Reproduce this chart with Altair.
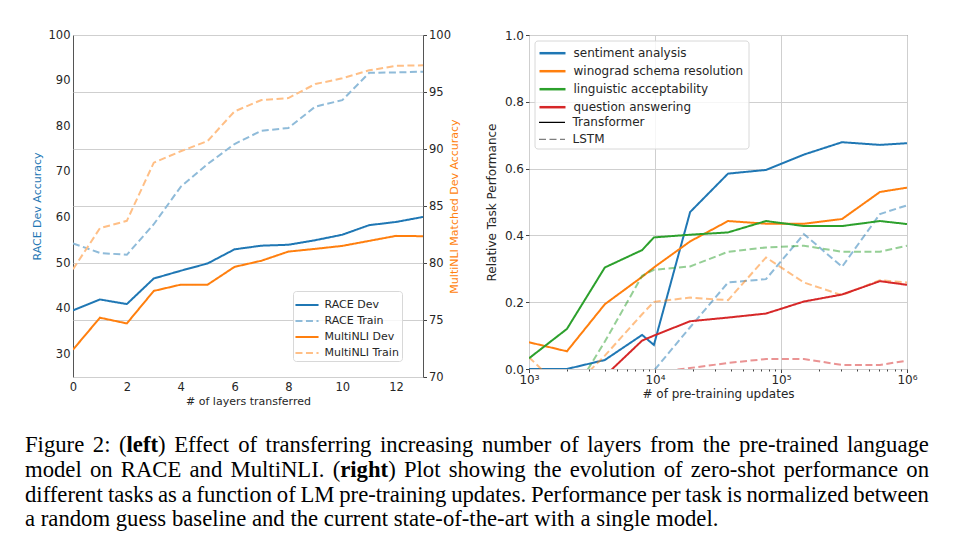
import re
import altair as alt
import pandas as pd

BLUE = "#1f77b4"
ORANGE = "#ff7f0e"
GREEN = "#2ca02c"
RED = "#d62728"
BLUE_LIGHT = "#8fbbd9"     # blue at half opacity on white
ORANGE_LIGHT = "#ffbf86"   # orange at half opacity on white

# ---------------- left panel data ----------------
layers = list(range(14))
race_dev = [39.6, 42.0, 41.0, 46.6, 48.3, 49.9, 53.0, 53.8, 54.0, 55.0, 56.2, 58.3, 59.0, 60.1]
race_train = [54.3, 52.2, 51.8, 58.5, 66.7, 71.7, 76.1, 79.0, 79.6, 84.3, 85.7, 91.7, 91.8, 91.95]
mnli_dev = [72.4, 75.2, 74.7, 77.55, 78.1, 78.1, 79.66, 80.2, 81.0, 81.24, 81.5, 81.94, 82.38, 82.35]
mnli_train = [79.45, 83.05, 83.7, 88.8, 89.8, 90.7, 93.3, 94.3, 94.47, 95.7, 96.2, 96.9, 97.3, 97.34]
left_series = ["RACE Dev", "RACE Train", "MultiNLI Dev", "MultiNLI Train"]
left_x_ticks = [0, 2, 4, 6, 8, 10, 12]
race_ticks = [30, 40, 50, 60, 70, 80, 90, 100]
mnli_ticks = [70, 75, 80, 85, 90, 95, 100]

# ---------------- right panel data ----------------
updates = [1000, 2000, 4000, 7900, 9800, 19000, 38000, 76000, 152000, 305000, 610000, 1000000]
tasks = ["sentiment analysis", "winograd schema resolution", "linguistic acceptability", "question answering"]
models = ["Transformer", "LSTM"]
tf_sentiment = [0.0, 0.0, 0.027, 0.102, 0.072, 0.47, 0.585, 0.596, 0.642, 0.679, 0.671, 0.676]
tf_winograd = [0.080, 0.053, 0.194, 0.276, 0.304, 0.382, 0.443, 0.435, 0.435, 0.449, 0.530, 0.543]
tf_linguistic = [0.032, 0.12, 0.304, 0.356, 0.394, 0.402, 0.409, 0.443, 0.428, 0.428, 0.443, 0.434]
tf_qa = [-0.15, -0.10, -0.021, 0.085, 0.10, 0.143, 0.154, 0.166, 0.202, 0.223, 0.263, 0.252]
lstm_sentiment = [-0.3, -0.25, -0.2, -0.1, -0.005, 0.125, 0.259, 0.269, 0.404, 0.306, 0.464, 0.49]
lstm_winograd = [0.035, -0.073, 0.04, 0.164, 0.201, 0.214, 0.206, 0.334, 0.259, 0.221, 0.266, 0.259]
lstm_linguistic = [-0.3, -0.103, 0.082, 0.279, 0.297, 0.307, 0.351, 0.364, 0.369, 0.351, 0.351, 0.369]
lstm_qa = [-0.3, -0.25, -0.2, -0.1, -0.01, 0.003, 0.018, 0.030, 0.030, 0.012, 0.012, 0.025]
perf_ticks = [0.0, 0.2, 0.4, 0.6, 0.8, 1.0]
update_ticks = [1000, 2000, 3000, 4000, 5000, 6000, 7000, 8000, 9000,
                10000, 20000, 30000, 40000, 50000, 60000, 70000, 80000, 90000,
                100000, 200000, 300000, 400000, 500000, 600000, 700000, 800000, 900000,
                1000000]

# ---------------- caption (** marks bold) ----------------
cap_lines = [
    "Figure 2: (**left**) Effect of transferring increasing number of layers from the pre-trained language",
    "model on RACE and MultiNLI. (**right**) Plot showing the evolution of zero-shot performance on",
    "different tasks as a function of LM pre-training updates. Performance per task is normalized between",
    "a random guess baseline and the current state-of-the-art with a single model.",
]
cap_justify = [True, True, True, False]

FONT = "DejaVu Sans"
SERIF = "Liberation Serif"
GRID = "#cfcfcf"
TXT = "#262626"

# ================= left chart =================
race_df = pd.DataFrame({
    "layers": layers + layers,
    "acc": race_dev + race_train,
    "series": ["RACE Dev"] * 14 + ["RACE Train"] * 14,
})
mnli_df = pd.DataFrame({
    "layers": layers + layers,
    "acc": mnli_dev + mnli_train,
    "series": ["MultiNLI Dev"] * 14 + ["MultiNLI Train"] * 14,
})

color_l = alt.Scale(domain=left_series, range=[BLUE, BLUE_LIGHT, ORANGE, ORANGE_LIGHT])
dash_l = alt.Scale(domain=left_series, range=[[1, 0], [7, 3.5], [1, 0], [7, 3.5]])
leg_l = alt.Legend(title=None, orient="none", legendX=220, legendY=256,
                   symbolType="M-1.2,0H1.2", symbolSize=370, symbolStrokeWidth=2,
                   labelFont=FONT, labelFontSize=11, labelColor=TXT, labelOffset=6.5,
                   labelLimit=300,
                   fillColor="rgba(255,255,255,0.8)", strokeColor="#d8d8d8",
                   padding=3, cornerRadius=3, rowPadding=-1.5)

x_left = alt.X("layers:Q", scale=alt.Scale(domain=[0, 13], nice=False),
               axis=alt.Axis(values=left_x_ticks, title="# of layers transferred", grid=False,
                             ticks=False, labelPadding=4, labelFlush=False, titlePadding=3,
                             labelFontSize=11.5, titleFontSize=11))

race = alt.Chart(race_df).mark_line(strokeWidth=2, clip=True).encode(
    x=x_left,
    y=alt.Y("acc:Q", scale=alt.Scale(domain=[25, 100], nice=False, zero=False),
            axis=alt.Axis(orient="left", values=race_ticks, title="RACE Dev Accuracy",
                          titleColor=BLUE, grid=False, ticks=False, labelPadding=3,
                          labelFlush=False, titlePadding=6, labelFontSize=11.5, titleFontSize=11)),
    color=alt.Color("series:N", scale=color_l, legend=leg_l),
    strokeDash=alt.StrokeDash("series:N", scale=dash_l, legend=leg_l),
)
mnli = alt.Chart(mnli_df).mark_line(strokeWidth=2, clip=True).encode(
    x=x_left,
    y=alt.Y("acc:Q", scale=alt.Scale(domain=[70, 100], nice=False, zero=False),
            axis=alt.Axis(orient="right", values=mnli_ticks, title="MultiNLI Matched Dev Accuracy",
                          titleColor=ORANGE, titleAngle=270, grid=True, gridColor=GRID,
                          ticks=True, tickSize=3.5, labelPadding=2, labelFlush=False,
                          titlePadding=9, labelFontSize=11.5, titleFontSize=11)),
    color=alt.Color("series:N", scale=color_l, legend=leg_l),
    strokeDash=alt.StrokeDash("series:N", scale=dash_l, legend=leg_l),
)

# ---- caption layout: justified text, word by word (Times metrics, per 1000 em) ----
CAP_SIZE = 22.7
W_REG = dict(zip("abcdefghijklmnopqrstuvwxyz",
                 [444, 500, 444, 500, 444, 333, 500, 500, 278, 278, 500, 278, 778,
                  500, 500, 500, 500, 333, 389, 278, 500, 500, 722, 500, 500, 444]))
W_REG.update({"A": 722, "C": 667, "E": 611, "F": 556, "I": 333, "L": 611, "M": 889,
              "N": 722, "P": 556, "R": 667, "S": 556, "T": 611, "2": 500, ":": 278,
              "(": 333, ")": 333, ".": 250, "-": 333})
W_BOLD = {"l": 278, "e": 444, "f": 333, "t": 333, "r": 444, "i": 278, "g": 500, "h": 556}


def tw(s, bold):
    table = W_BOLD if bold else W_REG
    return sum(table.get(c, 500) for c in s) / 1000.0 * CAP_SIZE


PX = 72            # page x of the left plot origin
PY = 34            # page y of the left plot origin
CAP_L, CAP_R = 24, 928
CAP_BASE = [451, 476, 501, 525]

cap_rows = []
for line, just, base in zip(cap_lines, cap_justify, CAP_BASE):
    words = []
    for w in line.split(" "):
        pieces = re.split(r"\*\*(.*?)\*\*", w)
        parts = [(p, i % 2 == 1) for i, p in enumerate(pieces) if p]
        words.append(parts)
    widths = [sum(tw(p, b) for p, b in parts) for parts in words]
    gap = (CAP_R - CAP_L - sum(widths)) / (len(words) - 1) if just else 0.25 * CAP_SIZE
    x = CAP_L
    for parts, wd in zip(words, widths):
        px = x
        for p, b in parts:
            cap_rows.append({"t": p, "x": px - PX, "y": base - PY, "bold": b})
            px += tw(p, b)
        x += wd + gap
cap_df = pd.DataFrame(cap_rows)


def cap_layer(bold):
    return alt.Chart(cap_df[cap_df["bold"] == bold]).mark_text(
        align="left", baseline="alphabetic", font=SERIF, fontSize=CAP_SIZE,
        fontWeight="bold" if bold else "normal", color="black",
    ).encode(
        x=alt.X("x:Q", scale=None, axis=None),
        y=alt.Y("y:Q", scale=None, axis=None),
        text="t:N",
    )


left = alt.layer(race, mnli, cap_layer(False), cap_layer(True)).resolve_scale(
    y="independent").properties(width=350, height=342)

# ================= right chart =================
rows = []
tf_vals = [tf_sentiment, tf_winograd, tf_linguistic, tf_qa]
lstm_vals = [lstm_sentiment, lstm_winograd, lstm_linguistic, lstm_qa]
for t, tv, lv in zip(tasks, tf_vals, lstm_vals):
    for u, v in zip(updates, tv):
        rows.append({"updates": u, "perf": v, "task": t, "model": "Transformer"})
    for u, v in zip(updates, lv):
        rows.append({"updates": u, "perf": v, "task": t, "model": "LSTM"})
right_df = pd.DataFrame(rows)

MAJOR = "datum.value == 1000 || datum.value == 10000 || datum.value == 100000 || datum.value == 1000000"

x_right = alt.X("updates:Q", scale=alt.Scale(type="log", domain=[1000, 1000000], nice=False),
                axis=alt.Axis(values=update_ticks, title="# of pre-training updates",
                              labelExpr="datum.value == 1000 ? '10³' : datum.value == 10000 ? '10⁴' : datum.value == 100000 ? '10⁵' : datum.value == 1000000 ? '10⁶' : ''",
                              grid=True, gridColor=GRID,
                              gridOpacity={"condition": {"test": MAJOR, "value": 1}, "value": 0},
                              tickSize={"condition": {"test": MAJOR, "value": 3.5}, "value": 2},
                              labelFlush=False, labelOverlap=False, labelPadding=2,
                              titlePadding=3, labelFontSize=12, titleFontSize=12))
y_right = alt.Y("perf:Q", scale=alt.Scale(domain=[0, 1], nice=False),
                axis=alt.Axis(values=perf_ticks, format=".1f", title="Relative Task Performance",
                              grid=True, gridColor=GRID, tickSize=3.5, labelPadding=2,
                              labelFlush=False, titlePadding=6, labelFontSize=12, titleFontSize=12))

task_leg = alt.Legend(title=None, orient="none", legendX=12, legendY=6.7,
                      symbolType="M-1.3,0H1.3", symbolSize=400, symbolStrokeWidth=2.5,
                      labelFont=FONT, labelFontSize=12, labelColor=TXT, labelOffset=9.5,
                      labelLimit=300, padding=0, rowPadding=-1.5)
model_leg = alt.Legend(title=None, orient="none", legendX=12, legendY=76.3,
                       symbolType="M-1.3,0H1.3", symbolSize=400, symbolStrokeWidth=1.2,
                       symbolStrokeColor="black",
                       labelFont=FONT, labelFontSize=12, labelColor=TXT, labelOffset=9.5,
                       labelLimit=300, padding=0, rowPadding=-1.5)

one = pd.DataFrame({"k": [0]})
box = alt.Chart(one).mark_rect(fill="white", fillOpacity=0.8, stroke="#d8d8d8",
                               strokeWidth=1, cornerRadius=3).encode(
    x=alt.value(6), x2=alt.value(220), y=alt.value(6), y2=alt.value(114))

lines = alt.Chart(right_df).mark_line(strokeWidth=2, clip=True).encode(
    x=x_right,
    y=y_right,
    color=alt.Color("task:N", scale=alt.Scale(domain=tasks, range=[BLUE, ORANGE, GREEN, RED]),
                    legend=task_leg),
    strokeDash=alt.StrokeDash("model:N", scale=alt.Scale(domain=models, range=[[1, 0], [7, 3.5]]),
                              legend=model_leg),
    opacity=alt.Opacity("model:N", scale=alt.Scale(domain=models, range=[1, 0.5]), legend=model_leg),
)

right = alt.layer(box, lines).properties(width=378, height=334)

chart = alt.hconcat(left, right, spacing=106, bounds="flush").resolve_scale(
    color="independent", strokeDash="independent", opacity="independent"
).resolve_legend(
    color="independent", strokeDash="independent", opacity="independent"
).properties(
    padding={"left": 16, "top": 20, "right": 5, "bottom": 5}
).configure_view(stroke="#555555", strokeWidth=1).configure_axis(
    domain=False, labelFont=FONT, titleFont=FONT, labelColor=TXT, titleColor=TXT,
    titleFontWeight="normal", tickColor="#444444",
)

chart.save("out.html", embed_options={"renderer": "svg", "actions": False})
